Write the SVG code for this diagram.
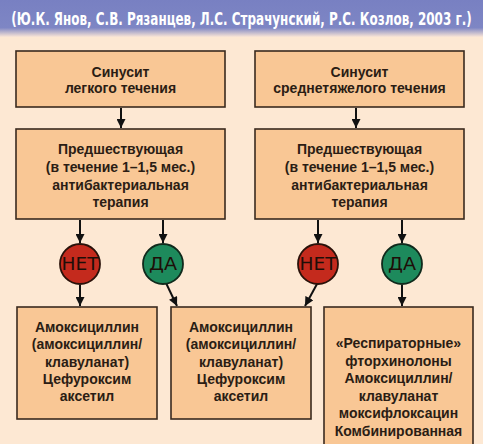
<svg xmlns="http://www.w3.org/2000/svg" width="483" height="444" viewBox="0 0 483 444">
<defs>
<linearGradient id="hdr" x1="0" y1="0" x2="0" y2="1">
<stop offset="0" stop-color="#7880c2"/>
<stop offset="0.75" stop-color="#7e86c4"/>
<stop offset="1" stop-color="#fbe6d6"/>
</linearGradient>
<marker id="ah" viewBox="0 0 10 10" refX="10" refY="5" markerWidth="4.8" markerHeight="4.5" orient="auto" markerUnits="strokeWidth">
<path d="M0,0 L10,5 L0,10 z" fill="#111"/>
</marker>
<style>
.box{fill:#f9c795;stroke:#3a2a1e;stroke-width:1.6}
.t{font-family:"Liberation Sans",Arial,sans-serif;font-weight:bold;font-size:14px;fill:#2b1d14;text-anchor:middle}
.c{font-family:"DejaVu Sans Condensed","Liberation Sans",sans-serif;font-size:17px;fill:#1e0e08;text-anchor:middle}
.ln{stroke:#111;stroke-width:2;fill:none;marker-end:url(#ah)}
.red{fill:#c42a1d;stroke:#2a120a;stroke-width:1.8}
.grn{fill:#1d8a5c;stroke:#102a1c;stroke-width:1.8}
</style>
</defs>
<rect x="0" y="0" width="483" height="444" fill="#fde8d3"/>
<rect x="0" y="0" width="483" height="37" fill="url(#hdr)"/>
<text transform="translate(241.5 25) scale(0.74 1)" x="0" y="0" font-family="'DejaVu Sans Condensed','Liberation Sans',sans-serif" font-weight="bold" font-size="17" fill="#ffffff" text-anchor="middle" textLength="622" lengthAdjust="spacingAndGlyphs">(Ю.К. Янов, С.В. Рязанцев, Л.С. Страчунский, Р.С. Козлов, 2003 г.)</text>

<g id="connectors">
<line class="ln" x1="121" y1="108" x2="121" y2="128"/>
<line class="ln" x1="356" y1="108" x2="356" y2="128"/>
<line class="ln" x1="80" y1="220" x2="80" y2="243"/>
<line class="ln" x1="163" y1="220" x2="163" y2="243"/>
<line class="ln" x1="318" y1="220" x2="318" y2="243"/>
<line class="ln" x1="402" y1="220" x2="402" y2="243"/>
<line class="ln" x1="80" y1="285" x2="80" y2="306"/>
<line class="ln" x1="166" y1="283" x2="177" y2="306"/>
<line class="ln" x1="317" y1="284" x2="305" y2="306"/>
<line class="ln" x1="402" y1="285" x2="402" y2="306"/>
</g>

<g id="box1">
<rect class="box" x="16" y="51" width="209" height="56"/>
<text class="t" x="120.5" y="77">Синусит</text>
<text class="t" x="120.5" y="93">легкого течения</text>
</g>
<g id="box2">
<rect class="box" x="255" y="51" width="209" height="56"/>
<text class="t" x="359.5" y="77">Синусит</text>
<text class="t" x="359.5" y="93">среднетяжелого течения</text>
</g>
<g id="box3">
<rect class="box" x="16" y="129" width="209" height="90"/>
<text class="t" x="120.5" y="154">Предшествующая</text>
<text class="t" x="120.5" y="172">(в течение 1–1,5 мес.)</text>
<text class="t" x="120.5" y="190">антибактериальная</text>
<text class="t" x="120.5" y="207">терапия</text>
</g>
<g id="box4">
<rect class="box" x="255" y="129" width="209" height="90"/>
<text class="t" x="359.5" y="154">Предшествующая</text>
<text class="t" x="359.5" y="172">(в течение 1–1,5 мес.)</text>
<text class="t" x="359.5" y="190">антибактериальная</text>
<text class="t" x="359.5" y="207">терапия</text>
</g>
<g id="no1">
<circle class="red" cx="80" cy="264" r="20"/>
<text class="c" x="80" y="270" textLength="37" lengthAdjust="spacingAndGlyphs">НЕТ</text>
</g>
<g id="yes1">
<circle class="grn" cx="163" cy="264" r="20"/>
<text class="c" x="163" y="270" textLength="28" lengthAdjust="spacingAndGlyphs">ДА</text>
</g>
<g id="no2">
<circle class="red" cx="318" cy="264" r="20"/>
<text class="c" x="318" y="270" textLength="37" lengthAdjust="spacingAndGlyphs">НЕТ</text>
</g>
<g id="yes2">
<circle class="grn" cx="402" cy="264" r="20"/>
<text class="c" x="402" y="270" textLength="28" lengthAdjust="spacingAndGlyphs">ДА</text>
</g>
<g id="box5">
<rect class="box" x="17" y="307" width="140" height="112"/>
<text class="t" x="87" y="332">Амоксициллин</text>
<text class="t" x="87" y="349">(амоксициллин/</text>
<text class="t" x="87" y="367">клавуланат)</text>
<text class="t" x="87" y="384">Цефуроксим</text>
<text class="t" x="87" y="401">аксетил</text>
</g>
<g id="box6">
<rect class="box" x="171" y="307" width="140" height="112"/>
<text class="t" x="241" y="332">Амоксициллин</text>
<text class="t" x="241" y="349">(амоксициллин/</text>
<text class="t" x="241" y="367">клавуланат)</text>
<text class="t" x="241" y="384">Цефуроксим</text>
<text class="t" x="241" y="401">аксетил</text>
</g>
<g id="box7">
<rect class="box" x="324" y="307" width="149" height="160"/>
<text class="t" x="398.5" y="348">«Респираторные»</text>
<text class="t" x="398.5" y="366">фторхинолоны</text>
<text class="t" x="398.5" y="383">Амоксициллин/</text>
<text class="t" x="398.5" y="401">клавуланат</text>
<text class="t" x="398.5" y="418">моксифлоксацин</text>
<text class="t" x="398.5" y="436">Комбинированная</text>
</g>
</svg>
